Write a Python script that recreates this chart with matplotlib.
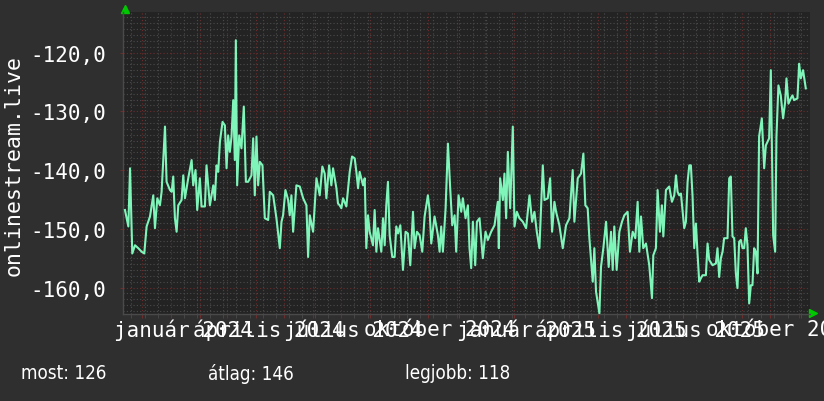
import pandas as pd
import matplotlib.pyplot as plt
from matplotlib.ticker import MultipleLocator
from matplotlib.transforms import blended_transform_factory

# time window of the graph
start = pd.Timestamp('2023-11-11')
end = pd.Timestamp('2025-11-13')

# sample positions (days after start) and signal values
days = [2.1, 5.7, 7.5, 9.9, 12.8, 16.3, 19.9, 22.7, 25.2, 28.8, 32.3, 34.1, 36.6, 39.4, 41.2,
        44.8, 46.5, 50.1, 51.9, 53.6, 55.4, 57.2, 59.0, 62.5, 64.3, 66.1, 69.6, 73.2, 74.9,
        77.4, 79.2, 82.0, 83.8, 87.4, 89.1, 92.7, 96.3, 98.0, 99.8, 101.6, 103.4, 106.2,
        108.7, 110.5, 112.2, 114.0, 115.8, 117.6, 119.3, 120.4, 121.8, 124.0, 126.4, 128.9,
        131.1, 133.5, 137.1, 138.9, 140.6, 142.4, 144.2, 146.0, 148.8, 151.3, 154.9, 156.6,
        160.2, 163.7, 167.3, 169.1, 170.8, 173.3, 176.2, 177.9, 179.7, 181.5, 185.0, 188.6,
        192.2, 195.7, 197.5, 199.3, 202.8, 206.4, 209.9, 212.7, 215.2, 217.0, 219.9, 222.3,
        224.1, 227.7, 229.4, 231.2, 233.0, 234.8, 238.3, 241.9, 244.4, 247.2, 249.0, 250.8,
        252.5, 256.1, 257.9, 259.6, 261.4, 263.2, 266.7, 268.5, 270.3, 272.1, 275.6, 277.4,
        279.2, 280.9, 282.7, 284.5, 287.3, 289.8, 291.6, 293.4, 295.9, 298.7, 301.5, 304.0,
        306.5, 309.4, 311.1, 313.6, 316.5, 319.3, 321.8, 325.3, 327.1, 328.9, 332.4, 336.0,
        337.8, 339.5, 341.3, 344.2, 346.7, 349.1, 351.3, 353.8, 355.5, 358.0, 360.9, 362.6,
        365.5, 368.0, 369.7, 371.5, 373.3, 375.8, 377.6, 380.4, 383.9, 386.8, 389.3, 392.8,
        396.4, 399.9, 401.0, 402.4, 405.3, 407.0, 408.8, 410.6, 413.1, 415.9, 417.7, 420.2,
        423.0, 426.6, 430.1, 433.7, 436.5, 439.0, 441.5, 444.3, 447.2, 447.9, 449.7, 453.2,
        455.7, 457.8, 460.3, 462.1, 465.6, 469.2, 472.7, 476.3, 479.8, 481.6, 485.2, 488.7,
        491.2, 493.3, 495.8, 497.6, 501.2, 502.9, 504.7, 508.3, 510.0, 512.5, 515.4, 518.2,
        520.7, 522.5, 524.2, 526.7, 529.6, 532.4, 534.9, 538.4, 540.9, 543.8, 546.6, 549.1,
        550.9, 552.7, 555.1, 558.0, 561.5, 564.4, 565.8, 568.6, 570.4, 572.9, 575.0, 576.5,
        579.3, 582.8, 585.7, 588.2, 590.0, 591.7, 593.5, 595.3, 598.8, 600.6, 602.4, 604.2,
        605.9, 607.7, 609.5, 611.3, 613.0, 614.8, 616.6, 618.4, 621.9, 623.7, 625.5, 629.0,
        632.6, 634.3, 636.1, 637.9, 639.7, 641.4, 645.0, 646.8, 648.5, 650.3, 652.1, 653.9,
        655.6, 657.4, 659.2, 661.0, 662.8, 664.5, 666.3, 668.1, 669.9, 671.6, 673.4, 675.2,
        677.0, 678.7, 681.6, 684.1, 685.9, 687.6, 689.4, 691.2, 693.7, 695.8, 697.2, 699.3,
        701.8, 704.3, 706.5, 707.9, 710.0, 712.5, 714.3, 716.0, 719.6, 721.4, 723.2, 725.6,
        728.5]
rssi = [-146.8, -149.6, -139.7, -154.2, -152.8, -153.3, -153.9, -154.2, -149.6, -147.9, -144.3,
        -149.9, -144.8, -146.0, -143.7, -132.6, -142.0, -143.4, -143.7, -141.1, -148.2, -150.5,
        -146.0, -145.1, -140.9, -144.8, -141.4, -138.3, -142.6, -140.0, -146.8, -141.4, -146.2,
        -146.2, -139.2, -146.0, -142.6, -145.1, -139.2, -140.3, -135.2, -131.8, -132.4, -139.7,
        -134.1, -136.9, -134.3, -128.1, -138.3, -117.9, -142.6, -134.1, -136.3, -129.2, -142.0,
        -142.0, -140.9, -134.6, -144.3, -134.3, -142.6, -138.6, -139.2, -148.2, -148.5, -143.7,
        -144.3, -148.2, -153.3, -148.8, -147.7, -143.4, -145.1, -147.7, -144.3, -150.5, -142.6,
        -142.8, -144.8, -146.0, -154.8, -147.7, -150.5, -141.4, -144.3, -139.4, -140.6, -144.8,
        -139.2, -142.6, -139.7, -143.1, -145.7, -146.0, -146.5, -144.8, -146.2, -140.3, -137.7,
        -138.0, -140.3, -143.1, -140.3, -142.6, -141.4, -153.3, -147.7, -150.5, -152.8, -146.8,
        -153.9, -149.9, -153.9, -148.2, -152.8, -146.0, -142.0, -151.1, -154.8, -154.8, -149.6,
        -150.8, -149.4, -157.0, -150.5, -150.8, -156.2, -147.1, -153.3, -150.5, -151.1, -153.9,
        -147.9, -144.3, -146.8, -152.5, -147.9, -151.1, -153.9, -149.6, -153.9, -146.5, -135.5,
        -143.1, -149.4, -147.7, -153.9, -144.3, -147.1, -144.8, -148.2, -146.0, -153.3, -156.7,
        -148.8, -156.2, -148.8, -148.2, -155.0, -150.5, -151.9, -150.5, -149.4, -145.4, -153.3,
        -141.4, -145.1, -140.6, -148.2, -136.9, -146.5, -132.6, -149.6, -147.1, -148.2, -148.8,
        -149.9, -144.3, -148.8, -147.1, -150.5, -153.3, -142.0, -139.2, -145.1, -144.8, -141.4,
        -150.5, -145.4, -147.1, -149.4, -153.3, -149.4, -148.2, -140.0, -148.8, -141.4, -140.6,
        -137.2, -146.0, -146.5, -151.6, -159.0, -153.3, -160.7, -164.4, -156.5, -153.3, -148.8,
        -156.5, -150.5, -157.0, -149.6, -157.0, -150.5, -148.8, -147.7, -147.1, -153.9, -150.5,
        -151.6, -145.4, -153.9, -147.9, -153.3, -152.5, -156.2, -161.8, -154.5, -153.3, -143.4,
        -150.5, -146.0, -151.3, -143.4, -142.8, -145.4, -144.3, -140.9, -143.7, -144.3, -144.0,
        -149.9, -148.8, -142.0, -139.2, -139.2, -144.5, -153.3, -149.1, -154.2, -159.0, -158.4,
        -157.9, -157.9, -152.5, -155.3, -156.2, -155.9, -153.3, -158.2, -155.0, -153.9, -151.6,
        -151.6, -141.4, -141.1, -151.3, -151.6, -157.6, -160.1, -152.2, -151.9, -153.3, -153.3,
        -149.9, -152.8, -162.7, -159.6, -159.6, -153.3, -153.9, -157.6, -134.3, -131.2, -139.7,
        -135.8, -135.2, -134.6, -123.0, -151.1, -153.9, -134.3, -125.6, -127.3, -131.2, -128.4,
        -124.4, -128.7, -127.8, -127.3, -128.1, -127.8, -121.9, -124.4, -123.0, -126.1]

# x axis labels (quarterly, centred a bit after the first of the month)
month_labels = ['január 2024', 'április 2024', 'július 2024', 'október 2024',
                'január 2025', 'április 2025', 'július 2025', 'október 2025']
label_dates = ['2024-01-14', '2024-04-14', '2024-07-14', '2024-10-14',
               '2025-01-14', '2025-04-14', '2025-07-14', '2025-10-14']
y_ticks = [-160, -150, -140, -130, -120]
legend_items = ['most: 126', 'átlag: 146', 'legjobb: 118']
legend_x = [21, 208, 405]

BG = '#2f2f2f'
CANVAS = '#232323'
LINE = '#80f5ba'
MAJOR = '#6e2c2c'
MINOR = '#4b4b4b'
ARROW = '#00c800'
MONO = 'DejaVu Sans Mono'

dates = start + pd.to_timedelta(days, unit='D')

fig = plt.figure(figsize=(8.24, 4.02), dpi=100, facecolor=BG)
ax = fig.add_axes([123 / 824, 87 / 402, 687 / 824, 302 / 402], facecolor=CANVAS)

ax.plot(dates, rssi, color=LINE, lw=1.5, zorder=3)

ax.set_xlim(start, end)
ax.set_ylim(-164.5, -113.1)

# grid: months (major) and fortnights (minor) on x, 10 / 1 units on y
ax.set_xticks(pd.date_range('2023-12-01', end, freq='MS'))
ax.set_xticks(pd.date_range('2023-11-20', end, freq='14D'), minor=True)
ax.set_yticks(y_ticks)
ax.yaxis.set_minor_locator(MultipleLocator(1))
ax.set_yticklabels([f'{v:.1f}'.replace('.', ',') for v in y_ticks])

dots = (0, (1, 2))
ax.grid(which='minor', color=MINOR, linestyle=dots, linewidth=0.8, zorder=0)
ax.grid(which='major', color=MAJOR, linestyle=dots, linewidth=0.8, zorder=1)
ax.set_axisbelow(True)

ax.tick_params(axis='x', which='both', labelbottom=False, direction='out', length=3)
ax.tick_params(axis='x', which='major', color=MAJOR)
ax.tick_params(axis='x', which='minor', color=MINOR)
ax.tick_params(axis='y', which='major', length=2, color=MAJOR, pad=10,
               labelcolor='white', labelsize=15)
ax.tick_params(axis='y', which='minor', length=0)
for lbl in ax.get_yticklabels():
    lbl.set_family(MONO)

for side in ['top', 'right']:
    ax.spines[side].set_visible(False)
for side in ['left', 'bottom']:
    ax.spines[side].set_color('#4a4a4a')
    ax.spines[side].set_linewidth(1)

# overlapping month labels, like the original graph
trans = blended_transform_factory(ax.transData, ax.transAxes)
for d, txt in zip(label_dates, month_labels):
    ax.text(pd.Timestamp(d), -0.05, txt, transform=trans, ha='center', va='center',
            color='white', fontsize=15, family=MONO, clip_on=False)

# axis arrows
ax.plot([0.003], [1.01], marker='^', ms=6, color=ARROW, transform=ax.transAxes, clip_on=False)
ax.plot([1.005], [0.003], marker='>', ms=6, color=ARROW, transform=ax.transAxes, clip_on=False)

fig.text(14 / 824, 1 - 165 / 402, 'onlinestream.live', rotation=90, ha='center', va='center',
         color='white', fontsize=15.5, family=MONO)

for x, txt in zip(legend_x, legend_items):
    fig.text(x / 824, 1 - 374 / 402, txt, ha='left', va='center', color='white',
             fontsize=13.5, family='DejaVu Sans', fontstretch='condensed')

fig.savefig('out.png', dpi=100, facecolor=BG)
